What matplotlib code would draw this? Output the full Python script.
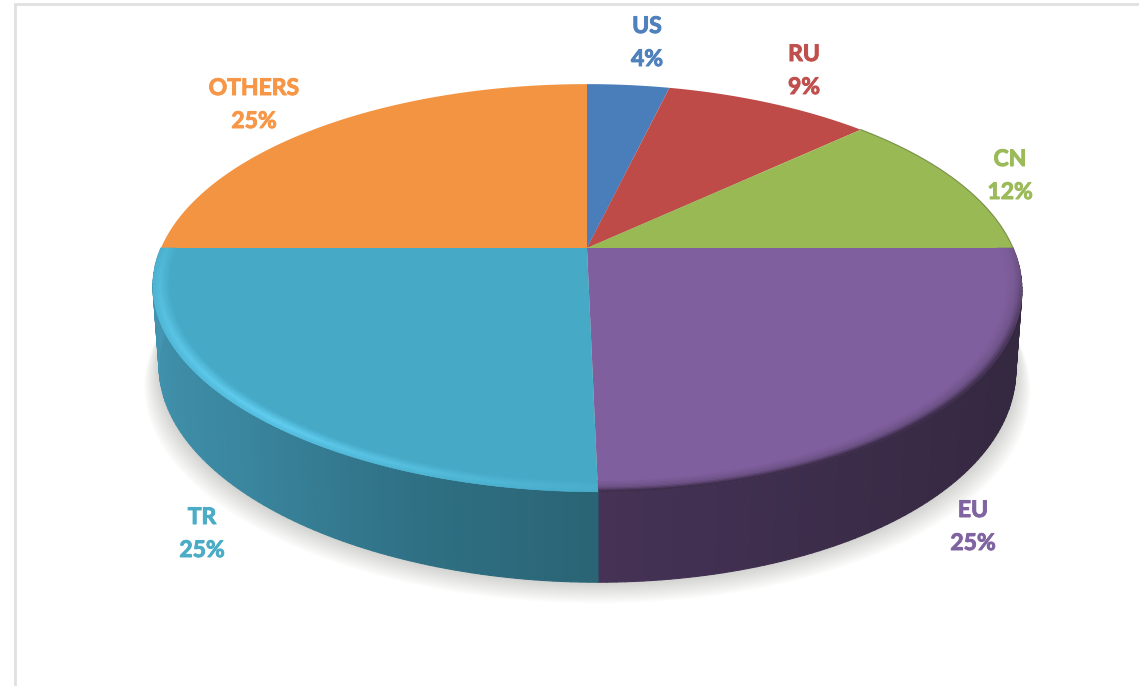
import numpy as np
from matplotlib import pyplot as plt
from matplotlib import colors as mcolors
from matplotlib import patheffects as pe
from matplotlib.collections import PolyCollection

# slices, clockwise from 12 o'clock (labels are rounded)
names = ['US', 'RU', 'CN', 'EU', 'TR', 'OTHERS']
values = [3.7, 9.3, 12, 25, 25, 25]
top_colors = ['#4a7ebb', '#be4b48', '#98b954', '#7f5f9d', '#46a9c6', '#f39442']
text_colors = ['#4f81bd', '#c0504d', '#9bbb59', '#8064a2', '#4bacc6', '#f79646']
label_x = [647, 804, 1010, 973, 202, 254]
label_y = [33, 61, 166, 517, 524, 95]

plt.rcParams['font.family'] = ['Lato', 'DejaVu Sans']

fig = plt.figure(figsize=(11.39, 6.86), dpi=100)
ax = fig.add_axes([0, 0, 1, 1])
ax.set_xlim(0, 1139)
ax.set_ylim(686, 0)
ax.axis('off')


def project(theta, r=1.0, lower=False):
    # unit disc seen in perspective, theta in degrees clockwise from top
    a = np.radians(theta)
    x = r * np.sin(a)
    y = r * np.cos(a)
    w = 1 + 0.196 * y
    shift = 11 * np.minimum(y, 0) ** 2
    if lower:
        return 587 + shift + 420 * x / w, 326 - 206 * y / w
    return 587 + shift + 426 * x / w, 248 - 196 * y / w


def mix(c1, c2, f):
    c1 = np.array(mcolors.to_rgb(c1))
    c2 = np.array(mcolors.to_rgb(c2))
    return tuple(c1 + (c2 - c1) * f)


def shade(theta, angles, cols):
    rgb = np.array([mcolors.to_rgb(c) for c in cols])
    return tuple(np.interp(theta, angles, rgb[:, i]) for i in range(3))


# frame
ax.plot([14.5, 14.5, 1139], [686, 3.5, 3.5], color='#e0e0e0', lw=2, solid_joinstyle='miter')

# soft shadow under the wall
t = np.linspace(0, 360, 361)
n_sh = 22
for i in range(n_sh):
    f = 1 - i / n_sh
    sx, sy = project(t, lower=True)
    sx = 590 + (sx - 590) * (1 + 0.034 * f)
    sy = sy + 21 * f
    ax.fill(sx, sy, color='#a8a8a2', alpha=0.022, lw=0, zorder=1)

# side wall
wall_angles = {
    'EU': ([90, 120, 150, 180], ['#342840', '#352841', '#3b2c49', '#453256']),
    'TR': ([180, 200, 225, 250, 270], ['#2a6475', '#2f7084', '#3a869f', '#4090ab', '#4596b4']),
}
edges = np.cumsum([0] + values) * 3.6
quads = []
quad_cols = []
for name, start, end in zip(names, edges[:-1], edges[1:]):
    if name not in wall_angles:
        continue
    angs, cols = wall_angles[name]
    tt = np.arange(start, end + 0.01, 1.0)
    for t0, t1 in zip(tt[:-1], tt[1:]):
        x0, y0 = project(t0)
        x1, y1 = project(t1)
        x2, y2 = project(t1, lower=True)
        x3, y3 = project(t0, lower=True)
        quads.append([(x0, y0), (x1, y1), (x2, y2), (x3, y3)])
        quad_cols.append(shade((t0 + t1) / 2, angs, cols))
ax.add_collection(PolyCollection(quads, facecolors=quad_cols, edgecolors=quad_cols, linewidths=0.8, zorder=2))

# top face
for name, col, start, end in zip(names, top_colors, edges[:-1], edges[1:]):
    tt = np.linspace(start, end, 200)
    rx, ry = project(tt)
    px = np.r_[587, rx]
    py = np.r_[248, ry]
    ax.fill(px, py, color=col, lw=0, zorder=3)
    if name == 'CN':
        ax.plot(rx, ry, color=mix(col, '#303030', 0.3), lw=0.8, zorder=3)

# bevel along the front rim
bevel = {
    'TR': ('#62cff2', [180, 195, 220, 245, 270], [0.15, 0.45, 1.0, 0.75, 0.35]),
    'EU': ('#33263e', [90, 100, 115, 140, 180], [0.15, 0.35, 0.8, 1.0, 1.0]),
}
radii = np.linspace(0.962, 1.0, 10)
for name, col, start, end in zip(names, top_colors, edges[:-1], edges[1:]):
    if name not in bevel:
        continue
    hi, angs, amt = bevel[name]
    tt = np.arange(start, end + 0.01, 0.5)
    quads = []
    quad_cols = []
    for r0, r1 in zip(radii[:-1], radii[1:]):
        rm = (r0 + r1) / 2
        if name == 'TR':
            prof = np.interp(rm, [0.962, 0.985, 1.0], [0, 1, 0.55])
        else:
            prof = np.interp(rm, [0.962, 0.985, 1.0], [0, 0.35, 1]) ** 1.3
        for t0, t1 in zip(tt[:-1], tt[1:]):
            x0, y0 = project(t0, r0)
            x1, y1 = project(t1, r0)
            x2, y2 = project(t1, r1)
            x3, y3 = project(t0, r1)
            f = prof * np.interp((t0 + t1) / 2, angs, amt)
            quads.append([(x0, y0), (x1, y1), (x2, y2), (x3, y3)])
            quad_cols.append(mix(col, hi, f))
    ax.add_collection(PolyCollection(quads, facecolors=quad_cols, edgecolors=quad_cols, linewidths=0.4, zorder=4))

# labels, name line then percent line 33 px lower
for name, v, col, lx, ly in zip(names, values, text_colors, label_x, label_y):
    for txt, yy in ((name, ly), (f'{round(v)}%', ly + 33)):
        ax.text(lx, yy, txt, color=col, fontsize=16.5, fontweight='bold',
                ha='center', va='baseline', zorder=5,
                path_effects=[pe.withStroke(linewidth=0.7, foreground=col)])

plt.savefig('out.png', dpi=100)
